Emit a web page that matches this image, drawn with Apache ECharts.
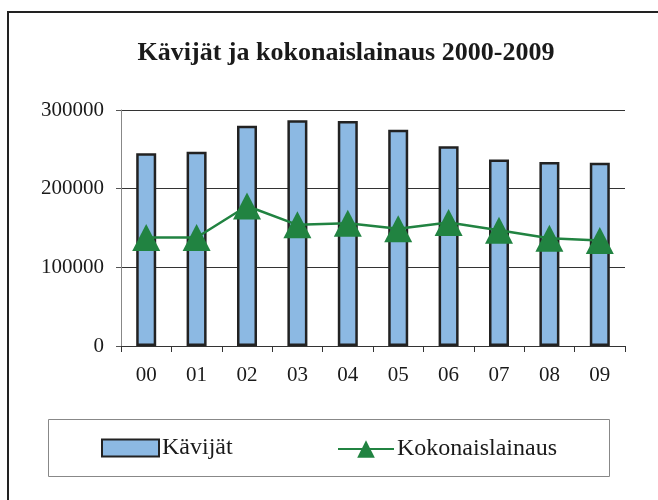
<!DOCTYPE html>
<html>
<head>
<meta charset="utf-8">
<script src="https://cdn.jsdelivr.net/npm/echarts@6/dist/echarts.min.js"></script>
<style>
  html, body { margin: 0; padding: 0; background: #fff; }
  #chart { width: 658px; height: 500px; }
</style>
</head>
<body>
<div id="chart"></div>
<script>
// vuodet 2000-2009
const years = ["00", "01", "02", "03", "04", "05", "06", "07", "08", "09"]
const visitors = [245000, 247000, 280000, 287000, 286000, 275000, 254000, 237000, 234000, 233000]
const loans = [138000, 138000, 178000, 154000, 156000, 149000, 157000, 147000, 137000, 134000]
const yTicks = [0, 100000, 200000, 300000]

const serif = "'Liberation Serif', 'DejaVu Serif', serif"
const legendText = { fontFamily: serif, fontSize: 24, color: "#1a1a1a", padding: [0, 0, 0, -2] }
const chart = echarts.init(document.getElementById("chart"))

const option = {
  backgroundColor: "#fff",
  animation: false,
  title: {
    text: "Kävijät ja kokonaislainaus 2000-2009",
    left: 341,
    textAlign: "center",
    top: 35,
    textStyle: { fontFamily: serif, fontSize: 26, fontWeight: "bold", color: "#1a1a1a" }
  },
  graphic: [
    // ulkoreunus
    { type: "rect", shape: { x: 8, y: 12, width: 700, height: 600 },
      style: { fill: "none", stroke: "#222", lineWidth: 2 } },
    // selitteen kehys
    { type: "rect", shape: { x: 48.5, y: 419.5, width: 561, height: 57 },
      style: { fill: "none", stroke: "#888", lineWidth: 1 } }
  ],
  // kaksi selitettä, jotta kuvakkeiden koot saa erikseen
  legend: [
    {
      left: 101,
      top: 436,
      padding: 0,
      itemWidth: 57,
      itemHeight: 17,
      textStyle: legendText,
      data: [{ name: "Kävijät", icon: "rect" }]
    },
    {
      left: 337,
      top: 437,
      padding: 0,
      itemWidth: 56,
      itemHeight: 22,
      textStyle: legendText,
      data: [{ name: "Kokonaislainaus" }]
    }
  ],
  grid: { left: 121, right: 33, top: 110, bottom: 154 },
  xAxis: {
    type: "category",
    data: years,
    axisLine: { lineStyle: { color: "#333", width: 1 } },
    axisTick: { show: true, length: 6, lineStyle: { color: "#333" } },
    axisLabel: { fontFamily: serif, fontSize: 21, color: "#1a1a1a", margin: 19 }
  },
  yAxis: {
    type: "value",
    min: yTicks[0],
    max: yTicks[yTicks.length - 1],
    interval: 100000,
    axisLine: { show: true, lineStyle: { color: "#888", width: 1 } },
    axisTick: { show: true, length: 5, lineStyle: { color: "#555" } },
    axisLabel: {
      fontFamily: serif, fontSize: 21, color: "#1a1a1a", margin: 17,
      formatter: (v) => String(v)
    },
    splitLine: { lineStyle: { color: "#333", width: 1 } }
  },
  series: [
    {
      name: "Kävijät",
      type: "bar",
      data: visitors,
      barWidth: 20,
      itemStyle: { color: "#8cb9e3", borderColor: "#222", borderWidth: 2.5 }
    },
    {
      name: "Kokonaislainaus",
      type: "line",
      data: loans,
      symbol: "triangle",
      symbolSize: [28, 27],
      lineStyle: { color: "#218341", width: 2.5 },
      itemStyle: { color: "#218341" },
      z: 3
    }
  ]
}

chart.setOption(option)
</script>
</body>
</html>
